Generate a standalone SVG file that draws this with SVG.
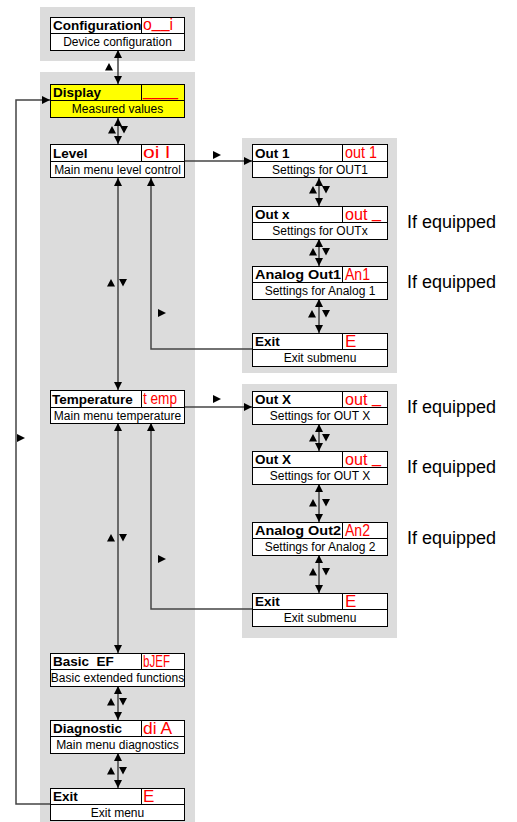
<svg xmlns="http://www.w3.org/2000/svg" width="517" height="822" viewBox="0 0 517 822">
  <style>
    .panel { fill: #dcdcdc; }
    .box { fill: #ffffff; stroke: #000000; stroke-width: 1; }
    .yel { fill: #ffff00; }
    .title { font-family: "Liberation Sans", Arial, sans-serif; font-size: 13.5px; font-weight: bold; fill: #000000; }
    .sub { font-family: "Liberation Sans", Arial, sans-serif; font-size: 12px; fill: #000000; text-anchor: middle; }
    .code { font-family: "Liberation Sans", Arial, sans-serif; font-size: 17px; fill: #ff0000; }
    .note { font-family: "Liberation Sans", Arial, sans-serif; font-size: 18px; fill: #000000; }
    .line { fill: none; stroke: #444444; stroke-width: 1.5; }
    .tri { fill: #000000; }
  </style>
  <defs>
    <marker id="ah" viewBox="0 0 10 10" refX="10" refY="5" markerWidth="10" markerHeight="8" markerUnits="userSpaceOnUse" orient="auto-start-reverse">
      <path d="M0,0 L10,5 L0,10 z" fill="#000000"/>
    </marker>
    <path id="up" d="M0,-4 L4,3.5 L-4,3.5 z"/>
    <path id="dn" d="M0,3.5 L4,-4 L-4,-4 z"/>
    <path id="rt" d="M-4,-4 L4,0 L-4,4 z"/>
  </defs>

  <!-- background panels -->
  <rect class="panel" x="40" y="7" width="155" height="54"/>
  <rect class="panel" x="40" y="72" width="155" height="750"/>
  <rect class="panel" x="242" y="138" width="155" height="235"/>
  <rect class="panel" x="242" y="384" width="155" height="254"/>

  <!-- connectors -->
  <g id="connectors">
    <!-- main menu chain -->
    <line class="line" x1="118" y1="50" x2="118" y2="84" marker-start="url(#ah)" marker-end="url(#ah)"/>
    <line class="line" x1="118" y1="118" x2="118" y2="144" marker-start="url(#ah)" marker-end="url(#ah)"/>
    <line class="line" x1="118" y1="178" x2="118" y2="390" marker-start="url(#ah)" marker-end="url(#ah)"/>
    <line class="line" x1="118" y1="423" x2="118" y2="653" marker-start="url(#ah)" marker-end="url(#ah)"/>
    <line class="line" x1="118" y1="686" x2="118" y2="720" marker-start="url(#ah)" marker-end="url(#ah)"/>
    <line class="line" x1="118" y1="753" x2="118" y2="788" marker-start="url(#ah)" marker-end="url(#ah)"/>
    <!-- level submenu -->
    <line class="line" x1="184" y1="161" x2="252" y2="161" marker-end="url(#ah)"/>
    <line class="line" x1="319" y1="178" x2="319" y2="206" marker-start="url(#ah)" marker-end="url(#ah)"/>
    <line class="line" x1="319" y1="239" x2="319" y2="266" marker-start="url(#ah)" marker-end="url(#ah)"/>
    <line class="line" x1="319" y1="299" x2="319" y2="333" marker-start="url(#ah)" marker-end="url(#ah)"/>
    <polyline class="line" points="252,349 151,349 151,178" marker-end="url(#ah)"/>
    <!-- temperature submenu -->
    <line class="line" x1="184" y1="407" x2="252" y2="407" marker-end="url(#ah)"/>
    <line class="line" x1="319" y1="424" x2="319" y2="451" marker-start="url(#ah)" marker-end="url(#ah)"/>
    <line class="line" x1="319" y1="484" x2="319" y2="522" marker-start="url(#ah)" marker-end="url(#ah)"/>
    <line class="line" x1="319" y1="555" x2="319" y2="593" marker-start="url(#ah)" marker-end="url(#ah)"/>
    <polyline class="line" points="252,609 151,609 151,423" marker-end="url(#ah)"/>
    <!-- exit back to display -->
    <polyline class="line" points="50,804 16,804 16,100 50,100" marker-end="url(#ah)"/>

    <!-- direction marks -->
    <use class="tri" href="#up" x="109" y="67"/>
    <use class="tri" href="#up" x="112" y="130"/>
    <use class="tri" href="#dn" x="124" y="130"/>
    <use class="tri" href="#up" x="111" y="283"/>
    <use class="tri" href="#dn" x="123" y="283"/>
    <use class="tri" href="#up" x="111" y="538"/>
    <use class="tri" href="#dn" x="123" y="538"/>
    <use class="tri" href="#up" x="111" y="702"/>
    <use class="tri" href="#dn" x="123" y="702"/>
    <use class="tri" href="#up" x="111" y="771"/>
    <use class="tri" href="#dn" x="123" y="771"/>
    <use class="tri" href="#up" x="313" y="190"/>
    <use class="tri" href="#dn" x="326" y="190"/>
    <use class="tri" href="#up" x="313" y="252"/>
    <use class="tri" href="#dn" x="326" y="252"/>
    <use class="tri" href="#up" x="312" y="314"/>
    <use class="tri" href="#dn" x="326" y="314"/>
    <use class="tri" href="#up" x="313" y="438"/>
    <use class="tri" href="#dn" x="326" y="438"/>
    <use class="tri" href="#up" x="313" y="503"/>
    <use class="tri" href="#dn" x="326" y="503"/>
    <use class="tri" href="#up" x="313" y="572"/>
    <use class="tri" href="#dn" x="326" y="572"/>
    <use class="tri" href="#rt" x="217" y="155"/>
    <use class="tri" href="#rt" x="162" y="313"/>
    <use class="tri" href="#rt" x="217" y="399"/>
    <use class="tri" href="#rt" x="162" y="559"/>
    <use class="tri" href="#rt" x="21" y="438"/>
  </g>

  <!-- main menu -->
  <g id="configuration">
    <rect class="box" x="50.5" y="17.5" width="134" height="33"/>
    <line class="box" x1="50.5" y1="33.5" x2="184.5" y2="33.5"/>
    <line class="box" x1="141.5" y1="17.5" x2="141.5" y2="33.5"/>
    <text class="title" x="53" y="30">Configuration</text>
    <text class="code" x="143" y="30" textLength="30" lengthAdjust="spacingAndGlyphs">o<tspan dy="-2.5">__</tspan><tspan dy="2.5">i</tspan></text>
    <text class="sub" x="117.5" y="46">Device configuration</text>
  </g>
  <g id="display">
    <rect class="box yel" x="50.5" y="84.5" width="134" height="33"/>
    <line class="box" x1="50.5" y1="100.5" x2="184.5" y2="100.5"/>
    <line class="box" x1="141.5" y1="84.5" x2="141.5" y2="100.5"/>
    <text class="title" x="53" y="97">Display</text>
    <text class="code" x="143" y="96" textLength="35" lengthAdjust="spacingAndGlyphs">____</text>
    <text class="sub" x="117.5" y="113">Measured values</text>
  </g>
  <g id="level">
    <rect class="box" x="50.5" y="144.5" width="134" height="33"/>
    <line class="box" x1="50.5" y1="161.5" x2="184.5" y2="161.5"/>
    <line class="box" x1="141.5" y1="144.5" x2="141.5" y2="161.5"/>
    <text class="title" x="53" y="158">Level</text>
    <text class="code" x="143" y="158" textLength="27" lengthAdjust="spacingAndGlyphs">oi l</text>
    <text class="sub" x="117.5" y="174">Main menu level control</text>
  </g>
  <g id="temperature">
    <rect class="box" x="50.5" y="390.5" width="134" height="33"/>
    <line class="box" x1="50.5" y1="407.5" x2="184.5" y2="407.5"/>
    <line class="box" x1="141.5" y1="390.5" x2="141.5" y2="407.5"/>
    <text class="title" x="52" y="404">Temperature</text>
    <text class="code" x="143" y="404" textLength="34" lengthAdjust="spacingAndGlyphs">t emp</text>
    <text class="sub" x="117.5" y="420">Main menu temperature</text>
  </g>
  <g id="basic-ef">
    <rect class="box" x="50.5" y="653.5" width="134" height="33"/>
    <line class="box" x1="50.5" y1="669.5" x2="184.5" y2="669.5"/>
    <line class="box" x1="141.5" y1="653.5" x2="141.5" y2="669.5"/>
    <text class="title" x="53" y="666" xml:space="preserve">Basic  EF</text>
    <text class="code" x="143" y="667" textLength="27" lengthAdjust="spacingAndGlyphs">bJEF</text>
    <text class="sub" x="117.5" y="682">Basic extended functions</text>
  </g>
  <g id="diagnostic">
    <rect class="box" x="50.5" y="720.5" width="134" height="33"/>
    <line class="box" x1="50.5" y1="736.5" x2="184.5" y2="736.5"/>
    <line class="box" x1="141.5" y1="720.5" x2="141.5" y2="736.5"/>
    <text class="title" x="53" y="733">Diagnostic</text>
    <text class="code" x="143" y="734" textLength="29" lengthAdjust="spacingAndGlyphs">di A</text>
    <text class="sub" x="117.5" y="749">Main menu diagnostics</text>
  </g>
  <g id="exit-menu">
    <rect class="box" x="50.5" y="788.5" width="134" height="32"/>
    <line class="box" x1="50.5" y1="804.5" x2="184.5" y2="804.5"/>
    <line class="box" x1="141.5" y1="788.5" x2="141.5" y2="804.5"/>
    <text class="title" x="53" y="801">Exit</text>
    <text class="code" x="143" y="802">E</text>
    <text class="sub" x="117.5" y="817">Exit menu</text>
  </g>

  <!-- level submenu -->
  <g id="out1">
    <rect class="box" x="252.5" y="144.5" width="135" height="33"/>
    <line class="box" x1="252.5" y1="161.5" x2="387.5" y2="161.5"/>
    <line class="box" x1="342.5" y1="144.5" x2="342.5" y2="161.5"/>
    <text class="title" x="255" y="158">Out 1</text>
    <text class="code" x="345" y="158" textLength="32" lengthAdjust="spacingAndGlyphs">out 1</text>
    <text class="sub" x="320" y="174">Settings for OUT1</text>
  </g>
  <g id="outx">
    <rect class="box" x="252.5" y="206.5" width="135" height="33"/>
    <line class="box" x1="252.5" y1="222.5" x2="387.5" y2="222.5"/>
    <line class="box" x1="342.5" y1="206.5" x2="342.5" y2="222.5"/>
    <text class="title" x="255" y="219">Out x</text>
    <text class="code" x="345" y="220" textLength="36" lengthAdjust="spacingAndGlyphs">out <tspan dy="-2.5">_</tspan></text>
    <text class="sub" x="320" y="235">Settings for OUTx</text>
  </g>
  <g id="analog-out1">
    <rect class="box" x="252.5" y="266.5" width="135" height="33"/>
    <line class="box" x1="252.5" y1="282.5" x2="387.5" y2="282.5"/>
    <line class="box" x1="342.5" y1="266.5" x2="342.5" y2="282.5"/>
    <text class="title" x="255" y="279" textLength="86" lengthAdjust="spacingAndGlyphs">Analog Out1</text>
    <text class="code" x="345" y="280" textLength="25" lengthAdjust="spacingAndGlyphs">An1</text>
    <text class="sub" x="320" y="295">Settings for Analog 1</text>
  </g>
  <g id="exit-sub1">
    <rect class="box" x="252.5" y="333.5" width="135" height="33"/>
    <line class="box" x1="252.5" y1="349.5" x2="387.5" y2="349.5"/>
    <line class="box" x1="342.5" y1="333.5" x2="342.5" y2="349.5"/>
    <text class="title" x="255" y="346">Exit</text>
    <text class="code" x="345" y="347">E</text>
    <text class="sub" x="320" y="362">Exit submenu</text>
  </g>

  <!-- temperature submenu -->
  <g id="outX-a">
    <rect class="box" x="252.5" y="391.5" width="135" height="33"/>
    <line class="box" x1="252.5" y1="407.5" x2="387.5" y2="407.5"/>
    <line class="box" x1="342.5" y1="391.5" x2="342.5" y2="407.5"/>
    <text class="title" x="255" y="404">Out X</text>
    <text class="code" x="345" y="405" textLength="36" lengthAdjust="spacingAndGlyphs">out <tspan dy="-2.5">_</tspan></text>
    <text class="sub" x="320" y="420">Settings for OUT X</text>
  </g>
  <g id="outX-b">
    <rect class="box" x="252.5" y="451.5" width="135" height="33"/>
    <line class="box" x1="252.5" y1="467.5" x2="387.5" y2="467.5"/>
    <line class="box" x1="342.5" y1="451.5" x2="342.5" y2="467.5"/>
    <text class="title" x="255" y="464">Out X</text>
    <text class="code" x="345" y="465" textLength="36" lengthAdjust="spacingAndGlyphs">out <tspan dy="-2.5">_</tspan></text>
    <text class="sub" x="320" y="480">Settings for OUT X</text>
  </g>
  <g id="analog-out2">
    <rect class="box" x="252.5" y="522.5" width="135" height="33"/>
    <line class="box" x1="252.5" y1="538.5" x2="387.5" y2="538.5"/>
    <line class="box" x1="342.5" y1="522.5" x2="342.5" y2="538.5"/>
    <text class="title" x="255" y="535" textLength="86" lengthAdjust="spacingAndGlyphs">Analog Out2</text>
    <text class="code" x="345" y="536" textLength="25" lengthAdjust="spacingAndGlyphs">An2</text>
    <text class="sub" x="320" y="551">Settings for Analog 2</text>
  </g>
  <g id="exit-sub2">
    <rect class="box" x="252.5" y="593.5" width="135" height="33"/>
    <line class="box" x1="252.5" y1="609.5" x2="387.5" y2="609.5"/>
    <line class="box" x1="342.5" y1="593.5" x2="342.5" y2="609.5"/>
    <text class="title" x="255" y="606">Exit</text>
    <text class="code" x="345" y="607">E</text>
    <text class="sub" x="320" y="622">Exit submenu</text>
  </g>

  <!-- notes -->
  <text class="note" x="407" y="228">If equipped</text>
  <text class="note" x="407" y="288">If equipped</text>
  <text class="note" x="407" y="413">If equipped</text>
  <text class="note" x="407" y="473">If equipped</text>
  <text class="note" x="407" y="544">If equipped</text>
</svg>
